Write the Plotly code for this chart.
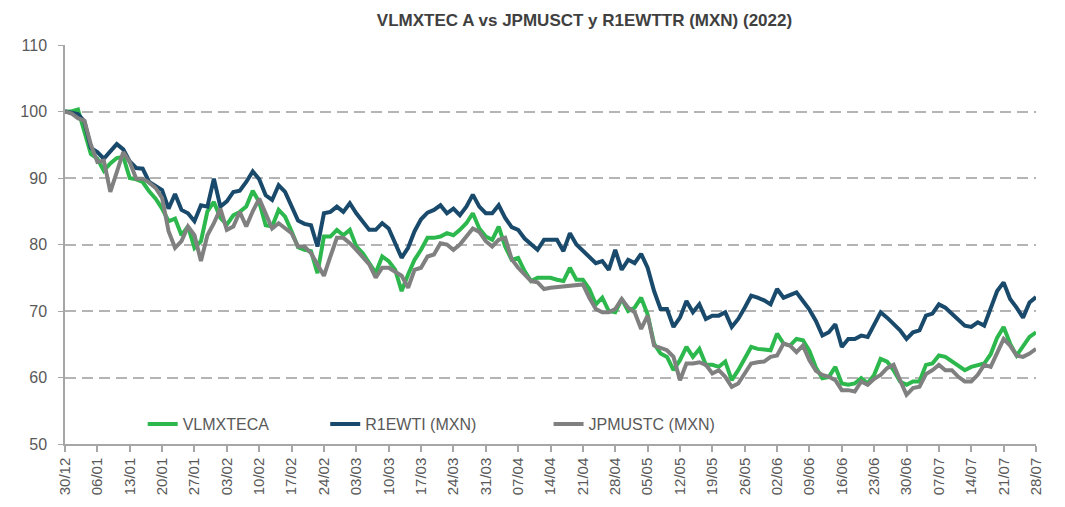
import pandas as pd
import plotly.graph_objects as go

# business days 30/12/2021 .. 28/07/2022 (151 points)
dates = pd.bdate_range("2021-12-30", "2022-07-28")

vlmxteca = [
    100, 100.0, 100.3, 97.0, 93.6, 92.9, 91.1, 92.2, 93.0, 93.2,
    90.0, 89.8, 89.4, 88.0, 86.9, 85.4, 83.5, 83.9, 81.4, 82.7,
    79.5, 80.5, 85.0, 86.4, 84.0, 83.0, 84.4, 84.9, 85.7, 88.1,
    86.4, 82.9, 82.7, 85.2, 84.2, 82.0, 79.6, 79.2, 79.0, 75.7,
    81.2, 81.2, 82.2, 81.4, 82.2, 79.7, 78.7, 77.2, 75.7, 78.2,
    77.5, 76.2, 73.0, 75.5, 77.7, 79.2, 81.0, 81.0, 81.2, 81.7,
    81.4, 82.2, 83.2, 84.7, 82.4, 81.2, 80.7, 82.7, 79.7, 77.7,
    78.0, 76.0, 74.5, 75.0, 75.0, 75.0, 74.7, 74.5, 76.5, 74.7,
    74.7, 73.3, 71.0, 72.0, 70.0, 69.8, 71.8, 70.0, 70.5, 72.0,
    69.5, 65.1, 63.6, 63.1, 61.1, 62.6, 64.6, 63.1, 64.3, 61.9,
    61.9, 61.6, 62.4, 59.6, 61.1, 63.0, 64.6, 64.3, 64.2, 64.1,
    66.6, 65.1, 64.8, 65.8, 65.6, 64.0, 61.5, 59.9, 60.1, 61.6,
    59.1, 58.9, 59.1, 59.9, 59.1, 60.4, 62.8, 62.4, 61.1, 59.4,
    58.9, 59.4, 59.4, 61.9, 62.1, 63.3, 63.1, 62.4, 61.8, 61.1,
    61.6, 61.9, 62.1, 63.5, 66.0, 67.6, 65.1, 63.3, 64.6, 66.1,
    66.8,
]

r1ewti = [
    100, 99.8, 99.6, 98.5, 94.5, 93.9, 92.9, 94.0, 95.1, 94.3,
    92.5, 91.5, 91.4, 89.4, 88.8, 88.2, 85.4, 87.6, 85.2, 84.7,
    83.5, 85.9, 85.7, 89.9, 85.7, 86.5, 87.9, 88.1, 89.4, 91.0,
    89.8, 87.4, 86.7, 88.9, 87.9, 85.9, 83.6, 83.1, 82.9, 79.7,
    84.7, 84.9, 85.7, 84.9, 86.2, 84.7, 83.4, 82.2, 82.2, 83.2,
    82.4, 80.0, 78.0, 79.5, 82.0, 83.8, 84.8, 85.2, 85.9, 84.7,
    85.4, 84.4, 85.7, 87.5, 85.7, 84.7, 84.7, 85.9, 84.0, 82.6,
    82.2, 80.9, 80.0, 79.2, 80.7, 80.7, 80.7, 79.0, 81.7, 80.0,
    79.0, 78.0, 77.2, 77.5, 76.2, 79.2, 76.2, 77.7, 77.2, 78.6,
    76.5, 73.0, 70.3, 70.3, 67.6, 69.0, 71.5, 69.8, 71.0, 68.8,
    69.3, 69.3, 69.8, 67.6, 68.8, 70.5, 72.3, 72.0, 71.6, 71.0,
    73.3, 72.0, 72.4, 72.8, 71.5, 70.2, 68.5, 66.3, 66.8, 68.0,
    64.6, 65.8, 65.8, 66.3, 66.1, 68.0, 69.8, 69.0, 68.0, 67.1,
    65.8, 66.8, 67.1, 69.3, 69.6, 71.0, 70.5, 69.6, 68.8, 67.8,
    67.6, 68.3, 67.8, 70.5, 73.0, 74.3, 71.8, 70.5, 69.0, 71.3,
    72.1,
]

jpmustc = [
    100, 99.7, 99.0, 98.6, 95.0, 92.4, 92.6, 87.9, 90.9, 93.9,
    92.4, 89.9, 89.9, 89.3, 88.5, 87.0, 82.0, 79.5, 80.5, 82.7,
    81.4, 77.5, 81.4, 83.2, 85.4, 82.2, 82.7, 84.9, 82.7, 85.0,
    86.9, 84.7, 82.4, 83.2, 82.4, 81.7, 79.7, 79.7, 78.7, 77.0,
    75.3, 78.2, 81.0, 81.0, 80.2, 79.2, 78.0, 77.0, 75.0, 76.5,
    76.5, 75.9, 75.3, 73.5, 76.2, 76.5, 78.2, 78.5, 80.2, 80.0,
    79.2, 80.0, 81.2, 82.4, 81.9, 80.5, 79.7, 80.7, 81.0, 77.8,
    76.5, 75.5, 74.5, 74.3, 73.3, 73.5, 73.6, 73.8, 73.9, 74.0,
    74.0, 72.0, 70.3, 69.8, 69.8, 70.3, 71.8, 70.5, 69.8, 67.3,
    69.3, 64.8, 64.4, 64.1, 63.1, 59.6, 62.1, 62.1, 62.3, 61.9,
    60.6, 61.1, 60.1, 58.6, 59.1, 60.5, 62.1, 62.3, 62.4, 63.1,
    63.3, 65.1, 64.8, 63.8, 64.8, 62.6, 61.0, 60.4, 60.1, 59.6,
    58.1, 58.1, 57.9, 59.4, 58.9, 59.8, 60.4, 61.4, 61.9, 59.6,
    57.4, 58.4, 58.6, 60.5, 61.1, 61.9, 61.1, 61.1, 60.1, 59.4,
    59.4, 60.4, 61.9, 61.6, 63.8, 65.8, 64.8, 63.3, 63.1, 63.6,
    64.3,
]

x = [d.strftime("%d/%m/%Y") for d in dates]
tick_vals = x[::5]
tick_text = [d.strftime("%d/%m") for d in dates[::5]]

font = "Arial, Liberation Sans, sans-serif"
grey_txt = "#595959"
axis_col = "#a6a6a6"

fig = go.Figure()
fig.add_trace(go.Scatter(x=x, y=vlmxteca, name="VLMXTECA", mode="lines",
                         line=dict(color="#2db84d", width=4), legend="legend"))
fig.add_trace(go.Scatter(x=x, y=r1ewti, name="R1EWTI (MXN)", mode="lines",
                         line=dict(color="#1a4a6b", width=4), legend="legend2"))
fig.add_trace(go.Scatter(x=x, y=jpmustc, name="JPMUSTC (MXN)", mode="lines",
                         line=dict(color="#808080", width=4), legend="legend3"))

leg = dict(orientation="h", yanchor="middle", y=0.05, xanchor="left",
           bgcolor="rgba(0,0,0,0)", font=dict(family=font, size=16, color=grey_txt))

# page body adds an 8px offset, so the figure is 8px smaller each way
fig.update_layout(
    width=1057, height=499,
    margin=dict(l=52, r=29, t=37, b=59),
    paper_bgcolor="white", plot_bgcolor="white",
    title=dict(text="<b>VLMXTEC A vs JPMUSCT y R1EWTTR (MXN) (2022)</b>",
               x=0.535, xref="paper", xanchor="center", y=0.976, yanchor="middle",
               font=dict(family=font, size=17, color="#404040")),
    legend=dict(leg, x=0.08),
    legend2=dict(leg, x=0.268),
    legend3=dict(leg, x=0.498),
    showlegend=True,
)

fig.update_xaxes(type="category", range=[0, 150], tickmode="array",
                 tickvals=tick_vals, ticktext=tick_text, tickangle=-90,
                 showgrid=False, showline=True, linecolor=axis_col, linewidth=1.5,
                 ticks="outside", ticklen=6, tickcolor=axis_col, tickwidth=1.5,
                 tickfont=dict(family=font, size=15, color=grey_txt))
fig.update_yaxes(range=[50, 110], dtick=10, showgrid=True, gridcolor="#b4b4b4",
                 griddash="11px,6px", gridwidth=1.5, zeroline=False,
                 showline=True, linecolor=axis_col, linewidth=1.5,
                 ticks="outside", ticklen=5, tickcolor=axis_col,
                 ticklabelstandoff=8,
                 tickfont=dict(family=font, size=16, color=grey_txt))

fig.write_html("out.html")
